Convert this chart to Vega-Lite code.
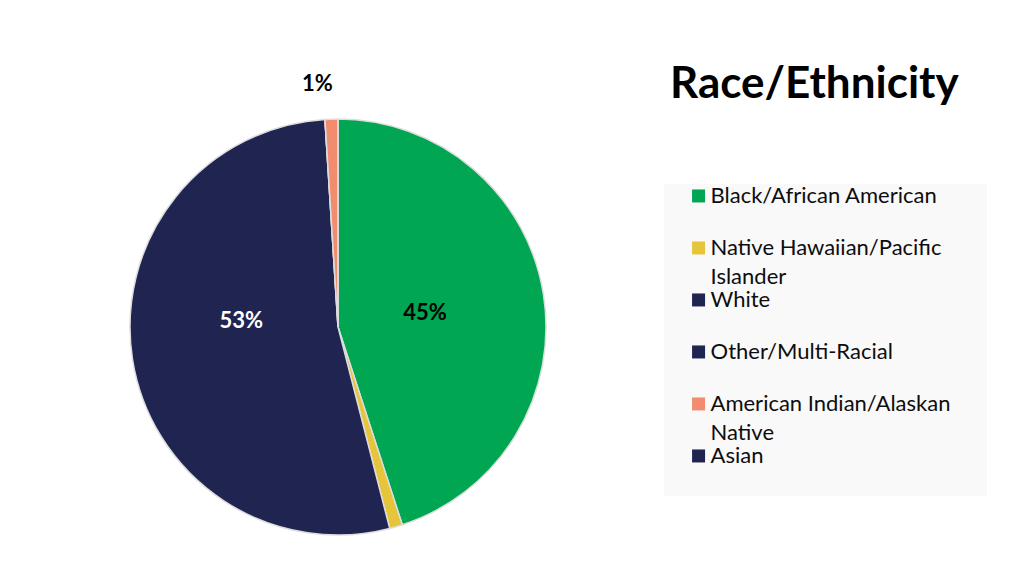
{
  "$schema": "https://vega.github.io/schema/vega-lite/v6.json",
  "background": "white",
  "padding": {"left": 84, "top": 63, "right": 0, "bottom": 0},
  "bounds": "flush",
  "config": {"view": {"stroke": null}, "font": "Lato"},
  "data": {"values": [
    {"category": "Black/African American", "label": "Black/African American", "value": 45, "pct": "45%", "idx": 1},
    {"category": "Native Hawaiian/Pacific Islander", "label": "Native Hawaiian/Pacific\nIslander", "value": 1, "pct": "1%", "idx": 2},
    {"category": "White", "label": "White", "value": 53, "pct": "53%", "idx": 3},
    {"category": "Other/Multi-Racial", "label": "Other/Multi-Racial", "value": 0, "pct": "0%", "idx": 4},
    {"category": "American Indian/Alaskan Native", "label": "American Indian/Alaskan\nNative", "value": 1, "pct": "1%", "idx": 5},
    {"category": "Asian", "label": "Asian", "value": 0, "pct": "0%", "idx": 6}
  ]},
  "spacing": 118,
  "hconcat": [
    {
      "width": 416,
      "height": 286,
      "encoding": {
        "theta": {"field": "value", "type": "quantitative", "stack": true},
        "order": {"field": "idx", "type": "quantitative"},
        "detail": {"field": "category", "type": "nominal"}
      },
      "layer": [
        {
          "mark": {"type": "arc", "outerRadius": 208, "stroke": "#DDDDDD", "strokeWidth": 1.5},
          "encoding": {
            "color": {
              "field": "category", "type": "nominal", "legend": null,
              "scale": {
                "domain": ["Black/African American", "Native Hawaiian/Pacific Islander", "White", "Other/Multi-Racial", "American Indian/Alaskan Native", "Asian"],
                "range": ["#00A651", "#E6C53A", "#1F2451", "#1F2451", "#F28C6E", "#1F2451"]
              }
            }
          }
        },
        {
          "mark": {"type": "text", "radius": 88, "fontSize": 22, "fontWeight": "bold", "color": "#000000", "baseline": "middle", "align": "center"},
          "encoding": {"text": {"condition": {"test": "datum.category == 'Black/African American'", "field": "pct"}, "value": ""}}
        },
        {
          "mark": {"type": "text", "radius": 98, "dy": -21, "fontSize": 22, "fontWeight": "bold", "color": "#FFFFFF", "baseline": "middle", "align": "center"},
          "encoding": {"text": {"condition": {"test": "datum.category == 'White'", "field": "pct"}, "value": ""}}
        },
        {
          "mark": {"type": "text", "radius": 243, "dx": -13, "fontSize": 22, "fontWeight": "bold", "color": "#000000", "baseline": "middle", "align": "center"},
          "encoding": {"text": {"condition": {"test": "datum.category == 'American Indian/Alaskan Native'", "field": "pct"}, "value": ""}}
        }
      ]
    },
    {
      "width": 323,
      "height": 312,
      "view": {"fill": "#F9F9F9", "stroke": null},
      "title": {"text": "Race/Ethnicity", "anchor": "start", "offset": 77, "dx": 6, "fontSize": 44, "font": "Lato", "fontWeight": "bold", "color": "#000000"},
      "encoding": {
        "y": {
          "field": "category", "type": "nominal", "axis": null,
          "sort": ["Black/African American", "Native Hawaiian/Pacific Islander", "White", "Other/Multi-Racial", "American Indian/Alaskan Native", "Asian"],
          "scale": {"type": "point", "padding": 0.5, "align": 0.23}
        },
        "x": {"datum": "entry", "type": "nominal", "axis": null, "scale": {"type": "point", "padding": 0, "align": 0.107}}
      },
      "layer": [
        {
          "mark": {"type": "point", "shape": "square", "filled": true, "size": 169, "opacity": 1},
          "encoding": {
            "color": {
              "field": "category", "type": "nominal", "legend": null,
              "scale": {
                "domain": ["Black/African American", "Native Hawaiian/Pacific Islander", "White", "Other/Multi-Racial", "American Indian/Alaskan Native", "Asian"],
                "range": ["#00A651", "#E6C53A", "#1F2451", "#1F2451", "#F28C6E", "#1F2451"]
              }
            }
          }
        },
        {
          "mark": {"type": "text", "align": "left", "baseline": "alphabetic", "dx": 12, "dy": 7, "fontSize": 22, "font": "Lato", "color": "#0D0D0D", "lineBreak": "\n", "lineHeight": 29},
          "encoding": {"text": {"field": "label"}}
        }
      ]
    }
  ]
}
